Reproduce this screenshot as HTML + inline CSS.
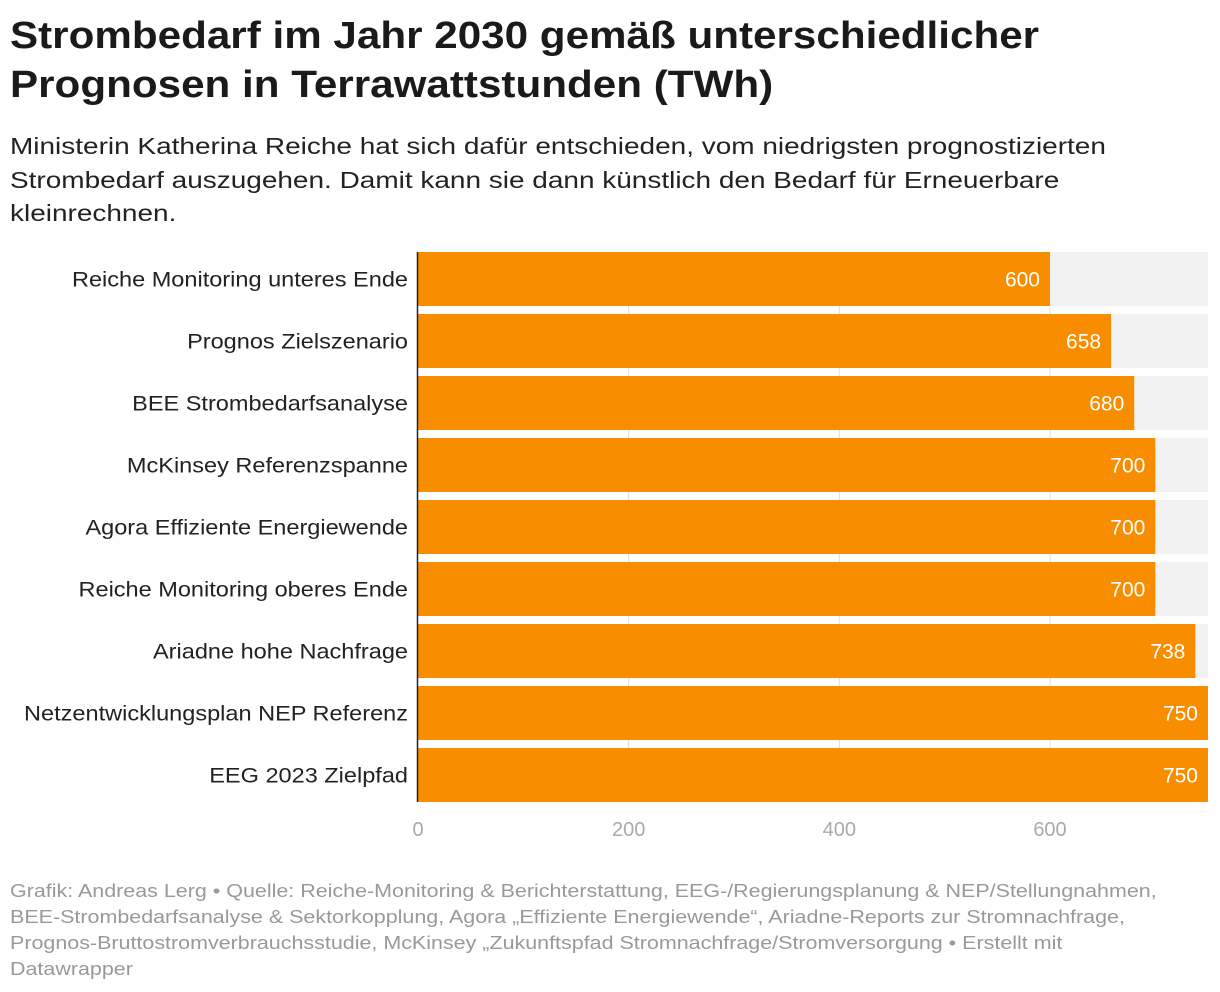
<!DOCTYPE html>
<html><head><meta charset="utf-8"><style>
body{margin:0;width:1220px;height:992px;background:#fff;font-family:"Liberation Sans",sans-serif;position:relative;overflow:hidden}
.sx{transform-origin:0 0;white-space:nowrap}
#title{position:absolute;left:10px;top:12px;font-size:38px;font-weight:bold;line-height:49px;color:#1a1a1a;margin:0;transform:scaleX(1.11)}
#sub{position:absolute;left:10px;top:130px;font-size:23.5px;line-height:33.5px;color:#222;transform:scaleX(1.19)}
#foot{position:absolute;left:10px;top:878px;font-size:18.5px;line-height:26px;color:#999;transform:scaleX(1.16)}
svg{position:absolute;left:0;top:0}
</style></head><body>
<h1 id="title" class="sx">Strombedarf im Jahr 2030 gemäß unterschiedlicher<br>Prognosen in Terrawattstunden (TWh)</h1>
<div id="sub" class="sx">Ministerin Katherina Reiche hat sich dafür entschieden, vom niedrigsten prognostizierten<br>Strombedarf auszugehen. Damit kann sie dann künstlich den Bedarf für Erneuerbare<br>kleinrechnen.</div>
<svg id="chart" width="1220" height="992"></svg>
<div id="foot" class="sx">Grafik: Andreas Lerg • Quelle: Reiche-Monitoring &amp; Berichterstattung, EEG-/Regierungsplanung &amp; NEP/Stellungnahmen,<br>BEE-Strombedarfsanalyse &amp; Sektorkopplung, Agora „Effiziente Energiewende“, Ariadne-Reports zur Stromnachfrage,<br>Prognos-Bruttostromverbrauchsstudie, McKinsey „Zukunftspfad Stromnachfrage/Stromversorgung • Erstellt mit<br>Datawrapper</div>
<script>
const categories=["Reiche Monitoring unteres Ende","Prognos Zielszenario","BEE Strombedarfsanalyse","McKinsey Referenzspanne","Agora Effiziente Energiewende","Reiche Monitoring oberes Ende","Ariadne hohe Nachfrage","Netzentwicklungsplan NEP Referenz","EEG 2023 Zielpfad"];
const values=[600,658,680,700,700,700,738,750,750];
const ticks=[0,200,400,600];
const maxVal=750;
const svg=document.getElementById('chart');const NS="http://www.w3.org/2000/svg";
const x0=418,x1=1208,top0=252,pitch=62,bh=54;
const x=v=>x0+(v/maxVal)*(x1-x0);
function mk(t,a){const e=document.createElementNS(NS,t);for(const k in a)e.setAttribute(k,a[k]);svg.appendChild(e);return e;}
ticks.forEach(t=>{if(t>0){const g=mk('line',{x1:x(t),x2:x(t),y1:top0,y2:top0+pitch*categories.length-8,stroke:'#e0e0e0','stroke-width':1});

}
const l=mk('text',{x:x(t),y:836,'text-anchor':'middle','font-size':20,fill:'#aaa','font-family':'Liberation Sans, sans-serif'});l.textContent=t;

});
categories.forEach((c,i)=>{const y=top0+i*pitch;
const bg=mk('rect',{x:x0,y:y,width:x1-x0,height:bh,fill:'#f2f2f2'});


const b=mk('rect',{x:x0,y:y,width:x(values[i])-x0,height:bh,fill:'#f88d00'});


const v=mk('text',{x:x(values[i])-10,y:y+bh/2+7.5,'text-anchor':'end','font-size':21,fill:'#fff','font-family':'Liberation Sans, sans-serif'});v.textContent=values[i];


const t=mk('text',{x:408,y:y+bh/2+7.5,'text-anchor':'end','font-size':21,fill:'#222','font-family':'Liberation Sans, sans-serif'});t.textContent=c;


const w=t.getComputedTextLength();t.setAttribute('textLength',w*1.12);t.setAttribute('lengthAdjust','spacingAndGlyphs');});
const ax=mk('line',{x1:x0-0.5,x2:x0-0.5,y1:top0,y2:top0+pitch*categories.length-8,stroke:'#222','stroke-width':1.5});


</script>
</body></html>
